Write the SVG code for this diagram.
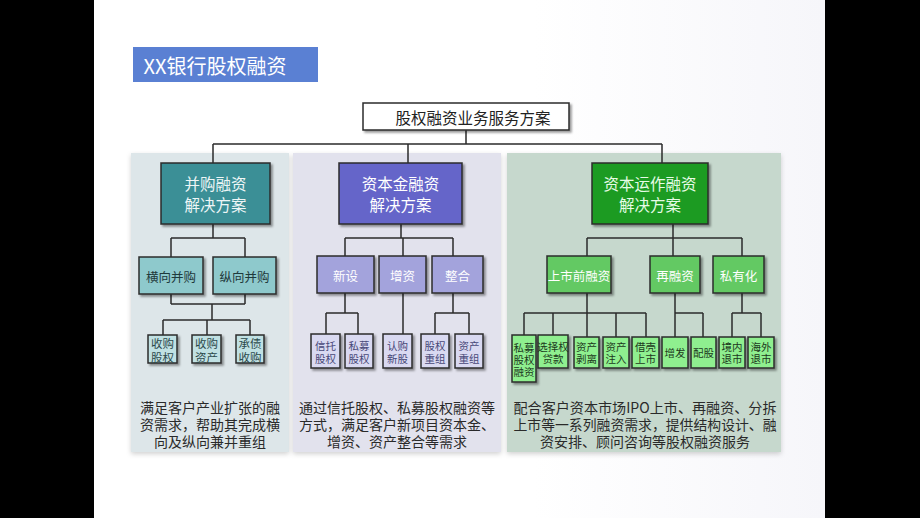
<svg xmlns="http://www.w3.org/2000/svg" width="920" height="518" viewBox="0 0 920 518">
<defs>
<filter id="sh" x="-20%" y="-20%" width="150%" height="150%"><feDropShadow dx="2" dy="2" stdDeviation="1.2" flood-color="#000" flood-opacity="0.4"/></filter>
<filter id="psh" x="-10%" y="-10%" width="120%" height="120%"><feDropShadow dx="0" dy="2" stdDeviation="2.5" flood-color="#000" flood-opacity="0.18"/></filter>
<linearGradient id="bg" x1="0" y1="0" x2="1" y2="0"><stop offset="0" stop-color="#ffffff"/><stop offset="0.6" stop-color="#ffffff"/><stop offset="1" stop-color="#f6f6fa"/></linearGradient>
</defs>
<style>
text{font-family:"Noto Sans CJK SC","Noto Sans",sans-serif;text-anchor:middle;dominant-baseline:central}
.b{stroke:#2b2b2b;stroke-width:1.5}
.ln{fill:none;stroke:#2b2b2b;stroke-width:1.5}
.cap{font-size:14px;fill:#2a2a2a}
.main{font-size:15.5px}
.l2{font-size:12.5px}
.sm{font-size:11.5px}
.xs{font-size:10.5px}
</style>
<rect x="0" y="0" width="920" height="518" fill="#000"/>
<rect x="94" y="0" width="731" height="518" fill="url(#bg)"/>

<g id="title">
<rect x="133" y="47" width="185" height="35" fill="#5a80d3"/>
<text x="215" y="65" style="font-size:20px;fill:#fff">XX银行股权融资</text>
</g>

<g id="panels">
<rect x="131" y="153" width="158" height="299" fill="#dde6e9" filter="url(#psh)"/>
<rect x="293" y="153" width="208" height="299" fill="#e2e2ed" filter="url(#psh)"/>
<rect x="507" y="153" width="274" height="299" fill="#c6d8cd" filter="url(#psh)"/>
</g>

<g id="connectors">
<path class="ln" d="M466 130V144M213 144H662M213 144V163M408 144V163M662 144V163"/>
<path class="ln" d="M213 224V238M171 238H245M171 238V257M245 238V257"/>
<path class="ln" d="M171 294V304M245 294V304M171 304H245M212 304V320M163 320H250M163 320V335M207 320V335M250 320V335"/>
<path class="ln" d="M401 224V238M345 238H453M345 238V256M403 238V256M453 238V256"/>
<path class="ln" d="M345 293V313M326 313H358M326 313V334M358 313V334M403 293V334M453 293V313M435 313H469M435 313V334M469 313V334"/>
<path class="ln" d="M673 224V238M587 238H742M587 238V256M673 238V256M742 238V256"/>
<path class="ln" d="M587 293V313M524 313H646M524 313V335M553 313V335M587 313V337M616 313V337M646 313V337"/>
<path class="ln" d="M675 293V313M675 313H703M675 313V337M703 313V337"/>
<path class="ln" d="M742 293V313M732 313H761M732 313V337M761 313V337"/>
</g>

<g id="top">
<rect x="363" y="103" width="206" height="27" fill="#fff" class="b" filter="url(#sh)"/>
<text x="473" y="117" style="font-size:15.5px;fill:#222">股权融资业务服务方案</text>
</g>

<g id="ma">
<rect x="161" y="163" width="109" height="61" fill="#3a8f96" class="b" filter="url(#sh)"/>
<text x="215.5" y="183" class="main" fill="#eef6f6">并购融资</text>
<text x="215.5" y="204" class="main" fill="#eef6f6">解决方案</text>
</g>
<g id="hx"><rect x="139" y="257" width="64" height="37" fill="#8ec9cc" class="b" filter="url(#sh)"/><text x="171" y="276" class="l2" fill="#1f3a3c">横向并购</text></g>
<g id="zx"><rect x="213" y="257" width="63" height="37" fill="#8ec9cc" class="b" filter="url(#sh)"/><text x="244.5" y="276" class="l2" fill="#1f3a3c">纵向并购</text></g>
<g id="sggq"><rect x="148" y="335" width="29" height="28" fill="#c0e1e3" class="b" filter="url(#sh)"/><text x="162.5" y="343" class="sm" fill="#2c4a4c">收购</text><text x="162.5" y="357" class="sm" fill="#2c4a4c">股权</text></g>
<g id="sgzc"><rect x="192" y="335" width="29" height="28" fill="#c0e1e3" class="b" filter="url(#sh)"/><text x="206.5" y="343" class="sm" fill="#2c4a4c">收购</text><text x="206.5" y="357" class="sm" fill="#2c4a4c">资产</text></g>
<g id="czsg"><rect x="236" y="335" width="28" height="28" fill="#c0e1e3" class="b" filter="url(#sh)"/><text x="250" y="343" class="sm" fill="#2c4a4c">承债</text><text x="250" y="357" class="sm" fill="#2c4a4c">收购</text></g>
<g id="capa">
<text x="210" y="407" class="cap">满足客户产业扩张的融</text>
<text x="210" y="424" class="cap">资需求，帮助其完成横</text>
<text x="210" y="441" class="cap">向及纵向兼并重组</text>
</g>

<g id="zb">
<rect x="339" y="163" width="123" height="61" fill="#6565c9" class="b" filter="url(#sh)"/>
<text x="400.5" y="183" class="main" fill="#fff">资本金融资</text>
<text x="400.5" y="204" class="main" fill="#fff">解决方案</text>
</g>
<g id="xs"><rect x="317" y="256" width="57" height="37" fill="#a3a3dc" class="b" filter="url(#sh)"/><text x="345.5" y="275" class="l2" fill="#fff">新设</text></g>
<g id="zz"><rect x="379" y="256" width="47" height="37" fill="#a3a3dc" class="b" filter="url(#sh)"/><text x="402.5" y="275" class="l2" fill="#fff">增资</text></g>
<g id="zh"><rect x="432" y="256" width="51" height="37" fill="#a3a3dc" class="b" filter="url(#sh)"/><text x="457.5" y="275" class="l2" fill="#fff">整合</text></g>
<g id="xtgq"><rect x="311" y="334" width="29" height="34" fill="#d9d9f1" class="b" filter="url(#sh)"/><text x="325.5" y="345" class="xs" fill="#484878">信托</text><text x="325.5" y="358" class="xs" fill="#484878">股权</text></g>
<g id="smgq"><rect x="345" y="334" width="28" height="34" fill="#d9d9f1" class="b" filter="url(#sh)"/><text x="359" y="345" class="xs" fill="#484878">私募</text><text x="359" y="358" class="xs" fill="#484878">股权</text></g>
<g id="rgxg"><rect x="383" y="334" width="29" height="34" fill="#d9d9f1" class="b" filter="url(#sh)"/><text x="397.5" y="345" class="xs" fill="#484878">认购</text><text x="397.5" y="358" class="xs" fill="#484878">新股</text></g>
<g id="gqcz"><rect x="421" y="334" width="28" height="34" fill="#d9d9f1" class="b" filter="url(#sh)"/><text x="435" y="345" class="xs" fill="#484878">股权</text><text x="435" y="358" class="xs" fill="#484878">重组</text></g>
<g id="zccz"><rect x="455" y="334" width="28" height="34" fill="#d9d9f1" class="b" filter="url(#sh)"/><text x="469" y="345" class="xs" fill="#484878">资产</text><text x="469" y="358" class="xs" fill="#484878">重组</text></g>
<g id="capb">
<text x="397" y="407" class="cap">通过信托股权、私募股权融资等</text>
<text x="397" y="424" class="cap">方式，满足客户新项目资本金、</text>
<text x="397" y="441" class="cap">增资、资产整合等需求</text>
</g>

<g id="zbyz">
<rect x="592" y="163" width="116" height="61" fill="#1f9b22" class="b" filter="url(#sh)"/>
<text x="650" y="183" class="main" fill="#e6fbe6">资本运作融资</text>
<text x="650" y="204" class="main" fill="#e6fbe6">解决方案</text>
</g>
<g id="ssq"><rect x="547" y="256" width="64" height="37" fill="#63c963" class="b" filter="url(#sh)"/><text x="579" y="275" class="l2" fill="#fff">上市前融资</text></g>
<g id="zrz"><rect x="650" y="256" width="50" height="37" fill="#63c963" class="b" filter="url(#sh)"/><text x="675" y="275" class="l2" fill="#fff">再融资</text></g>
<g id="syh"><rect x="713" y="256" width="51" height="37" fill="#63c963" class="b" filter="url(#sh)"/><text x="738.5" y="275" class="l2" fill="#fff">私有化</text></g>
<g id="smgqrz"><rect x="512" y="335" width="24" height="47" fill="#8fef8f" class="b" filter="url(#sh)"/><text x="524" y="347" class="xs" fill="#1d3a1d">私募</text><text x="524" y="359" class="xs" fill="#1d3a1d">股权</text><text x="524" y="371" class="xs" fill="#1d3a1d">融资</text></g>
<g id="xzqdk"><rect x="538" y="335" width="30" height="33" fill="#8fef8f" class="b" filter="url(#sh)"/><text x="553" y="346" class="xs" fill="#1d3a1d">选择权</text><text x="553" y="358" class="xs" fill="#1d3a1d">贷款</text></g>
<g id="zcbl"><rect x="574" y="337" width="25" height="31" fill="#8fef8f" class="b" filter="url(#sh)"/><text x="586.5" y="346" class="xs" fill="#1d3a1d">资产</text><text x="586.5" y="358" class="xs" fill="#1d3a1d">剥离</text></g>
<g id="zczr"><rect x="603" y="337" width="26" height="31" fill="#8fef8f" class="b" filter="url(#sh)"/><text x="616" y="346" class="xs" fill="#1d3a1d">资产</text><text x="616" y="358" class="xs" fill="#1d3a1d">注入</text></g>
<g id="jkss"><rect x="632" y="337" width="27" height="31" fill="#8fef8f" class="b" filter="url(#sh)"/><text x="645.5" y="346" class="xs" fill="#1d3a1d">借壳</text><text x="645.5" y="358" class="xs" fill="#1d3a1d">上市</text></g>
<g id="zf"><rect x="662" y="337" width="26" height="31" fill="#8fef8f" class="b" filter="url(#sh)"/><text x="675" y="352" class="xs" fill="#1d3a1d">增发</text></g>
<g id="pg"><rect x="691" y="337" width="25" height="31" fill="#8fef8f" class="b" filter="url(#sh)"/><text x="703.5" y="352" class="xs" fill="#1d3a1d">配股</text></g>
<g id="jnts"><rect x="719" y="337" width="26" height="31" fill="#8fef8f" class="b" filter="url(#sh)"/><text x="732" y="346" class="xs" fill="#1d3a1d">境内</text><text x="732" y="358" class="xs" fill="#1d3a1d">退市</text></g>
<g id="hwts"><rect x="748" y="337" width="26" height="31" fill="#8fef8f" class="b" filter="url(#sh)"/><text x="761" y="346" class="xs" fill="#1d3a1d">海外</text><text x="761" y="358" class="xs" fill="#1d3a1d">退市</text></g>
<g id="capc">
<text x="645" y="407" class="cap" textLength="263" lengthAdjust="spacingAndGlyphs">配合客户资本市场IPO上市、再融资、分拆</text>
<text x="645" y="424" class="cap" textLength="263" lengthAdjust="spacingAndGlyphs">上市等一系列融资需求，提供结构设计、融</text>
<text x="645" y="441" class="cap">资安排、顾问咨询等股权融资服务</text>
</g>
</svg>
